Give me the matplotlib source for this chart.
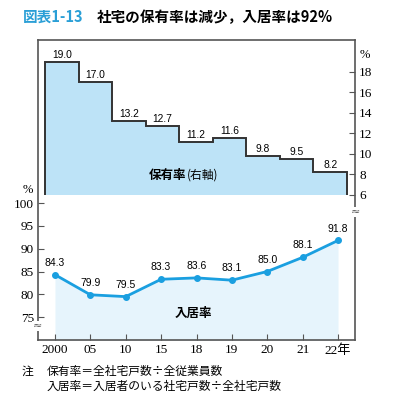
import numpy as np
import matplotlib
matplotlib.use("Agg")
import matplotlib.pyplot as plt

years = ["2000", "05", "10", "15", "18", "19", "20", "21", "22年"]
own_rate = [19.0, 17.0, 13.2, 12.7, 11.2, 11.6, 9.8, 9.5, 8.2]
occupancy = [84.3, 79.9, 79.5, 83.3, 83.6, 83.1, 85.0, 88.1, 91.8]
left_ticks = [75, 80, 85, 90, 95, 100]
right_ticks = [6, 8, 10, 12, 14, 16, 18]

serif = ["Liberation Serif", "Noto Sans CJK JP"]
sans = ["Liberation Sans", "DejaVu Sans"]
cjk = ["Noto Sans CJK JP", "DejaVu Sans"]
spine_c = "#555555"
line_c = "#1a9fe0"

fig = plt.figure(figsize=(3.96, 4.0), dpi=100)
rect = [38 / 396, 1 - 340 / 400, 317 / 396, 300 / 400]

# --- line (occupancy, left axis) ---
ax = fig.add_axes(rect)
x = np.arange(len(years))
ax.fill_between(x, occupancy, 60, color="#e6f4fc", lw=0, zorder=1)
ax.plot(x, occupancy, color=line_c, lw=2, marker="o", ms=4, zorder=3)
for xi, v in zip(x, occupancy):
    ax.annotate(f"{v:.1f}", (xi, v), xytext=(0, 5), textcoords="offset points",
                ha="center", va="bottom", fontsize=7.5, family=sans, zorder=4)
ax.set_xlim(-0.48, 8.48)
ax.set_ylim(70, 135.7)
ax.set_yticks(left_ticks)
ax.set_yticklabels([str(t) for t in left_ticks], family=serif, fontsize=9.5)
ax.set_xticks(x)
ax.set_xticklabels(years, family=serif, fontsize=9.5)
ax.tick_params(axis="both", direction="in", length=4, color=spine_c, pad=3)
for s in ax.spines.values():
    s.set_color(spine_c)
    s.set_linewidth(1.2)
ax.text((175 - 38) / 317, (340 - 313) / 300, "入居率", transform=ax.transAxes,
        ha="left", va="center", fontsize=9, family=cjk, fontweight="bold")

# --- steps (ownership rate, right axis) ---
ax2 = fig.add_axes(rect, frameon=False)
edges = np.arange(len(own_rate) + 1) - 0.5
ax2.stairs(own_rate, edges, baseline=6, fill=True, color="#bde3f7", lw=0, zorder=1)
ax2.stairs(own_rate, edges, baseline=6, color="#333333", lw=1.4, zorder=2)
for xi, v in enumerate(own_rate):
    ax2.text(xi, v + 0.2, f"{v:.1f}", ha="center", va="bottom", fontsize=7.4,
             family=sans, zorder=3)
ax2.set_xlim(-0.71, 8.74)
ax2.set_ylim(-8.15, 21.12)
ax2.set_xticks([])
ax2.yaxis.tick_right()
ax2.set_yticks(right_ticks)
ax2.set_yticklabels([str(t) for t in right_ticks], family=serif, fontsize=9.5)
ax2.tick_params(axis="y", direction="in", length=4, color=spine_c, pad=3)
ax2.text((149 - 38) / 317, (340 - 175) / 300, "保有率", transform=ax2.transAxes,
         ha="left", va="center", fontsize=9, family=cjk, fontweight="bold")
ax2.text((187 - 38) / 317, (340 - 175) / 300, "(右軸)", transform=ax2.transAxes,
         ha="left", va="center", fontsize=8.5, family=cjk)

# axis break marks and % units
fig.text(37 / 396, 1 - 326 / 400, "≈", ha="center", va="center", fontsize=8,
         color=spine_c, bbox=dict(fc="white", ec="none", pad=0))
fig.text(355 / 396, 1 - 212 / 400, "≈", ha="center", va="center", fontsize=8,
         color=spine_c, bbox=dict(fc="white", ec="none", pad=0))
fig.text(28 / 396, 1 - 190 / 400, "%", ha="center", va="center", fontsize=9,
         family=serif)
fig.text(365 / 396, 1 - 55 / 400, "%", ha="center", va="center", fontsize=9,
         family=serif)

# title
fig.text(23 / 396, 1 - 17 / 400, "図表1-13", ha="left", va="center", fontsize=10.5,
         family=cjk, color="#2a9fd6", fontweight="bold")
fig.text(97 / 396, 1 - 17 / 400, "社宅の保有率は減少，入居率は92%", ha="left",
         va="center", fontsize=10.5, family=cjk, fontweight="bold")

# notes
fig.text(22 / 396, 1 - 371 / 400, "注", ha="left", va="center", fontsize=8.5,
         family=cjk)
fig.text(47 / 396, 1 - 371 / 400, "保有率＝全社宅戸数÷全従業員数", ha="left",
         va="center", fontsize=8.5, family=cjk)
fig.text(47 / 396, 1 - 386 / 400, "入居率＝入居者のいる社宅戸数÷全社宅戸数",
         ha="left", va="center", fontsize=8.5, family=cjk)

fig.savefig("out.png", dpi=100)
